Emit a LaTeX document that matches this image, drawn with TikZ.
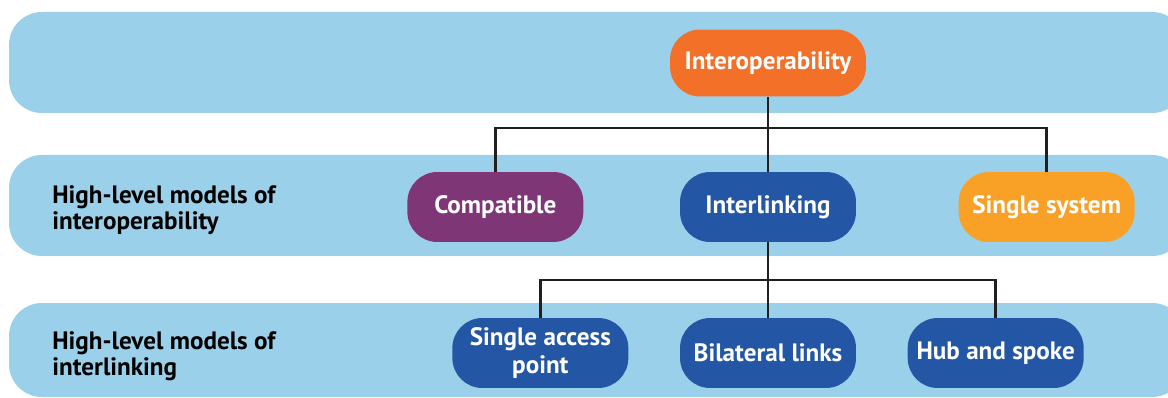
\documentclass[tikz,border=0pt]{standalone}
\usepackage{fontspec}
\setmainfont{PT Sans}
\usepackage{tikz}
\usetikzlibrary{positioning}
\definecolor{bandblue}{HTML}{9BD0EA}
\definecolor{interorange}{HTML}{F37029}
\definecolor{compatpurple}{HTML}{7F3677}
\definecolor{linkblue}{HTML}{2357A6}
\definecolor{singleorange}{HTML}{F8A126}
\definecolor{linegrey}{HTML}{231F20}

\begin{document}
\begin{tikzpicture}[
  x=0.02cm, y=-0.02cm,
  band/.style={fill=bandblue, rounded corners=0.66cm},
  model/.style={
    rectangle, rounded corners=0.6cm, minimum width=3.52cm, minimum height=1.4cm,
    inner sep=0pt, align=center, text=white,
    font=\fontsize{14.3}{16}\selectfont\bfseries,
  },
  rowlabel/.style={anchor=west, align=left, inner sep=0pt, font=\fontsize{14.3}{14.5}\selectfont\bfseries},
  link/.style={draw=linegrey, line width=1.4pt},
]
\path[use as bounding box, clip] (0,0) rectangle (1168,398);
% background bands
\path[band] (9,12) rectangle (1185,113);
\path[band] (9,155) rectangle (1185,256);
\path[band] (9,303) rectangle (1185,397);
% row labels
\node[rowlabel] (lbl1) at (52,210) {High-level models of\\interoperability};
\node[rowlabel] (lbl2) at (52,356) {High-level models of\\interlinking};
% models
\node[model, fill=interorange, minimum width=3.92cm, minimum height=1.34cm] (interop) at (768,63) {Interoperability};
\node[model, fill=linkblue] (interlink) at (768,207) {Interlinking};
\node[model, fill=compatpurple, left=1.92cm of interlink] (compat) {Compatible};
\node[model, fill=singleorange, right=2.04cm of interlink] (single) {Single system};
\node[model, fill=linkblue] (bilateral) at (768,353) {Bilateral links};
\node[model, fill=linkblue, left=1.02cm of bilateral] (access) {Single access\\point};
\node[model, fill=linkblue, right=1.02cm of bilateral] (hub) {Hub and spoke};
% connectors
\coordinate (bus1) at (768,128);
\coordinate (bus2) at (768,280);
\draw[link] (interop.south) -- (bus1) -- (interlink.north);
\draw[link] (bus1) -| (compat.north);
\draw[link] (bus1) -| (single.north);
\draw[link] (interlink.south) -- (bus2) -- (bilateral.north);
\draw[link] (bus2) -| (access.north);
\draw[link] (bus2) -| (hub.north);
\end{tikzpicture}
\end{document}
